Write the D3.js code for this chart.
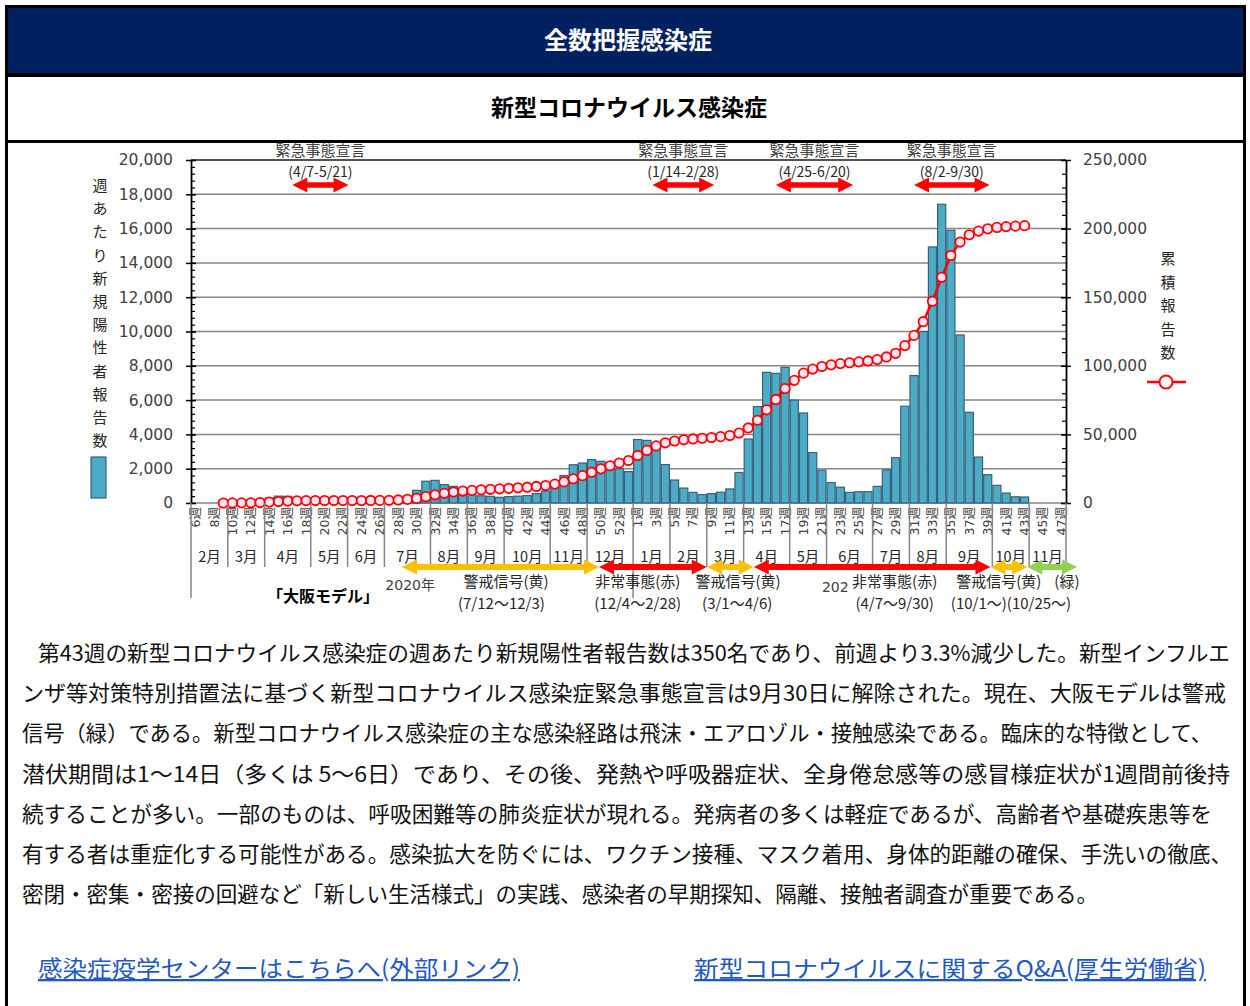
<!DOCTYPE html>
<html lang="ja">
<head>
<meta charset="UTF-8">
<script src="https://d3js.org/d3.v7.min.js"></script>
<style>
  body { margin: 0; background: #fff; }
  svg { display: block; }
  text { font-family: "Noto Sans CJK JP", "Noto Sans", sans-serif; }
  .num { font-family: "DejaVu Sans", "Noto Sans CJK JP", sans-serif; }
</style>
</head>
<body>
<svg id="page" width="1250" height="1006"></svg>
<script>
// ---- data ----
var weeks2020 = [6,7,8,9,10,11,12,13,14,15,16,17,18,19,20,21,22,23,24,25,26,27,28,29,30,31,32,33,34,35,36,37,38,39,40,41,42,43,44,45,46,47,48,49,50,51,52,53];
var weeks2021 = [1,2,3,4,5,6,7,8,9,10,11,12,13,14,15,16,17,18,19,20,21,22,23,24,25,26,27,28,29,30,31,32,33,34,35,36,37,38,39,40,41,42,43,44,45,46,47];

// weekly new positive reports (bars, left axis)
var newCases = [null,null,null,10,50,60,70,150,300,400,390,220,100,40,15,5,10,10,10,20,40,80,230,420,740,1270,1320,1070,970,700,480,420,390,330,370,400,430,550,700,1000,1600,2230,2330,2530,2430,2250,2000,1830,
  3700,3650,3300,2240,1340,870,620,490,550,630,820,1780,3730,5620,7620,7560,7910,6000,5250,2940,1910,1190,920,620,660,660,970,1930,2640,5640,7430,10000,14930,17420,15900,9800,5290,2680,1650,1030,580,362,350,null,null,null,null];

// cumulative reports (line, right axis)
var cumulative = [null,null,null,10,60,120,190,340,640,1040,1430,1650,1750,1790,1805,1810,1820,1830,1840,1860,1900,1980,2210,2630,3370,4640,5960,7030,8000,8700,9180,9600,9990,10320,10690,11090,11520,12070,12770,13770,15370,17600,19930,22460,24890,27140,29140,30970,
  34670,38320,41620,43860,45200,46070,46690,47180,47730,48360,49180,50960,54690,60310,67930,75490,83400,89400,94650,97590,99500,100690,101610,102230,102890,103550,104520,106450,109090,114730,122160,132160,147090,164510,180410,190210,195500,198180,199830,200860,201440,201800,202150,null,null,null,null];

var monthLabels = ["2月","3月","4月","5月","6月","7月","8月","9月","10月","11月","12月","1月","2月","3月","4月","5月","6月","7月","8月","9月","10月","11月"];
var monthWeekCounts = [4,4,5,4,4,5,4,4,5,4,5,4,4,4,5,4,5,4,4,5,4,4];

var leftTicks = [0,2000,4000,6000,8000,10000,12000,14000,16000,18000,20000];
var rightTicks = [0,50000,100000,150000,200000,250000];

// emergency declarations (positions in week units)
var emergencyLabels = ["(4/7-5/21)","(1/14-2/28)","(4/25-6/20)","(8/2-9/30)"];
var emergencyFrom = [11.0, 50.1, 63.5, 78.5];
var emergencyTo = [17.1, 56.8, 71.9, 86.7];

// Osaka model signal periods (week units)
var modelLevel = ["yellow","red","yellow","red","yellow","green"];
var modelFrom = [22.9, 44.3, 56.05, 61.1, 86.8, 90.8];
var modelTo = [44.3, 56.0, 61.1, 86.8, 90.8, 96.2];
var modelNames = ["警戒信号(黄)","非常事態(赤)","警戒信号(黄)","非常事態(赤)","警戒信号(黄)","(緑)"];
var modelNameAt = [34.2, 48.5, 59.4, 76.4, 87.7, 95.1];
var modelDates = ["(7/12～12/3)","(12/4～2/28)","(3/1～4/6)","(4/7～9/30)","(10/1～)(10/25～)"];
var modelDateAt = [33.7, 48.5, 59.3, 76.4, 82.5];
var yearLabels = ["2020年", "202"];
var yearAt = [21.1, 68.5];

var paragraph = [
  "第43週の新型コロナウイルス感染症の週あたり新規陽性者報告数は350名であり、前週より3.3%減少した。新型インフルエ",
  "ンザ等対策特別措置法に基づく新型コロナウイルス感染症緊急事態宣言は9月30日に解除された。現在、大阪モデルは警戒",
  "信号（緑）である。新型コロナウイルス感染症の主な感染経路は飛沫・エアロゾル・接触感染である。臨床的な特徴として、",
  "潜伏期間は1～14日（多くは 5～6日）であり、その後、発熱や呼吸器症状、全身倦怠感等の感冒様症状が1週間前後持",
  "続することが多い。一部のものは、呼吸困難等の肺炎症状が現れる。発病者の多くは軽症であるが、高齢者や基礎疾患等を",
  "有する者は重症化する可能性がある。感染拡大を防ぐには、ワクチン接種、マスク着用、身体的距離の確保、手洗いの徹底、",
  "密閉・密集・密接の回避など「新しい生活様式」の実践、感染者の早期探知、隔離、接触者調査が重要である。"
];
var links = ["感染症疫学センターはこちらへ(外部リンク)","新型コロナウイルスに関するQ&A(厚生労働省)"];

// ---- layout ----
var svg = d3.select("#page");
var levelColor = { yellow: "#FFC000", red: "#FF0000", green: "#92D050" };
var plotL = 191, plotR = 1066, plotT = 160, plotB = 503;
var nCat = weeks2020.length + weeks2021.length;

// frame + header
svg.append("rect").attr("x", 5).attr("y", 5).attr("width", 1241).attr("height", 1001).attr("fill", "#000");
svg.append("rect").attr("x", 8).attr("y", 8).attr("width", 1235).attr("height", 65).attr("fill", "#002060");
svg.append("rect").attr("x", 8).attr("y", 77).attr("width", 1235).attr("height", 63).attr("fill", "#fff");
svg.append("rect").attr("x", 8).attr("y", 143).attr("width", 1235).attr("height", 863).attr("fill", "#fff");

svg.append("text").attr("x", 628).attr("y", 49).attr("text-anchor", "middle")
  .attr("fill", "#fff").attr("font-size", 24).attr("font-weight", "bold").text("全数把握感染症");
svg.append("text").attr("x", 629).attr("y", 116).attr("text-anchor", "middle")
  .attr("fill", "#000").attr("font-size", 23).attr("font-weight", "bold").text("新型コロナウイルス感染症");

// scales
var x = d3.scaleBand().domain(d3.range(nCat)).range([plotL, plotR]).paddingInner(0.12).paddingOuter(0.06);
var xw = d3.scaleLinear().domain([0, nCat]).range([plotL, plotR]);
var yL = d3.scaleLinear().domain([0, 20000]).range([plotB, plotT]);
var yR = d3.scaleLinear().domain([0, 250000]).range([plotB, plotT]);

var g = svg.append("g");

// grid lines
g.selectAll(".grid").data(leftTicks.slice(1, -1)).enter().append("line")
  .attr("x1", plotL).attr("x2", plotR)
  .attr("y1", function(d) { return yL(d); }).attr("y2", function(d) { return yL(d); })
  .attr("stroke", "#868686").attr("stroke-width", 1.5);
g.append("line").attr("x1", plotL).attr("x2", plotR).attr("y1", plotT).attr("y2", plotT)
  .attr("stroke", "#1a1a1a").attr("stroke-width", 1.5);
g.append("line").attr("x1", plotL).attr("x2", plotR).attr("y1", plotB).attr("y2", plotB)
  .attr("stroke", "#868686").attr("stroke-width", 1.5);

// bars
g.selectAll(".bar").data(newCases.map(function(v, i) { return { i: i, v: v }; }).filter(function(d) { return d.v != null; }))
  .enter().append("rect")
  .attr("x", function(d) { return x(d.i); })
  .attr("y", function(d) { return yL(d.v); })
  .attr("width", x.bandwidth())
  .attr("height", function(d) { return plotB - yL(d.v); })
  .attr("fill", "#4BACC6").attr("stroke", "#3e5d7c").attr("stroke-width", 1.2);

// left axis
var leftMinor = d3.range(0, 20001, 400);
g.append("g").attr("transform", "translate(" + plotL + ",0)")
  .call(d3.axisRight(yL).tickValues(leftMinor).tickSize(4).tickFormat(""))
  .call(function(a) { a.select(".domain").remove(); a.selectAll("line").attr("stroke", "#000").attr("stroke-width", 1.2); });
g.append("g").attr("transform", "translate(" + plotL + ",0)")
  .call(d3.axisRight(yL).tickValues(leftTicks).tickSize(5).tickFormat(""))
  .call(function(a) { a.select(".domain").remove(); a.selectAll("line").attr("stroke", "#000").attr("stroke-width", 1.5); });
var axL = g.append("g").attr("transform", "translate(" + plotL + ",0)")
  .call(d3.axisLeft(yL).tickValues(leftTicks).tickSize(5).tickSizeOuter(0).tickPadding(13).tickFormat(d3.format(",")));
axL.select(".domain").attr("stroke", "#000").attr("stroke-width", 1.8);
axL.selectAll("line").attr("stroke", "#000").attr("stroke-width", 1.5);
axL.selectAll("text").attr("class", "num").attr("font-size", 15.5).attr("fill", "#404040");

// right axis
var rightMinor = d3.range(0, 250001, 10000);
g.append("g").attr("transform", "translate(" + plotR + ",0)")
  .call(d3.axisLeft(yR).tickValues(rightMinor).tickSize(4).tickFormat(""))
  .call(function(a) { a.select(".domain").remove(); a.selectAll("line").attr("stroke", "#000").attr("stroke-width", 1.2); });
g.append("g").attr("transform", "translate(" + plotR + ",0)")
  .call(d3.axisLeft(yR).tickValues(rightTicks).tickSize(5).tickFormat(""))
  .call(function(a) { a.select(".domain").remove(); a.selectAll("line").attr("stroke", "#000").attr("stroke-width", 1.5); });
var axR = g.append("g").attr("transform", "translate(" + plotR + ",0)")
  .call(d3.axisRight(yR).tickValues(rightTicks).tickSize(5).tickSizeOuter(0).tickPadding(12).tickFormat(d3.format(",")));
axR.select(".domain").attr("stroke", "#000").attr("stroke-width", 1.8);
axR.selectAll("line").attr("stroke", "#000").attr("stroke-width", 1.5);
axR.selectAll("text").attr("class", "num").attr("font-size", 15.5).attr("fill", "#404040");

// cumulative line + markers
var cumPts = cumulative.map(function(v, i) { return { i: i, v: v }; }).filter(function(d) { return d.v != null; });
var line = d3.line().x(function(d) { return x(d.i) + x.bandwidth() / 2; }).y(function(d) { return yR(d.v); });
g.append("path").datum(cumPts).attr("d", line).attr("fill", "none").attr("stroke", "#FF0000").attr("stroke-width", 2.5);
g.selectAll(".pt").data(cumPts).enter().append("circle")
  .attr("cx", function(d) { return x(d.i) + x.bandwidth() / 2; })
  .attr("cy", function(d) { return yR(d.v); })
  .attr("r", 4.7).attr("fill", "#FFE6F6").attr("stroke", "#FF0000").attr("stroke-width", 1.8);

// week labels
var weekLabels = weeks2020.concat(weeks2021).map(function(w) { return w + "週"; });
g.selectAll(".wk").data(weekLabels).enter().filter(function(d, i) { return i % 2 === 0; })
  .append("text")
  .attr("class", "num")
  .attr("transform", function(d, i) { return "translate(" + (x(i * 2) + x.bandwidth() / 2) + "," + (plotB + 4) + ") rotate(-90)"; })
  .attr("text-anchor", "end").attr("dy", "0.36em")
  .attr("font-size", 12.5).attr("fill", "#404040")
  .text(function(d) { return d; });

// month row
var bounds = [0];
monthWeekCounts.forEach(function(n) { bounds.push(bounds[bounds.length - 1] + n); });
g.selectAll(".msep").data(bounds).enter().append("line")
  .attr("x1", function(d) { return xw(d); }).attr("x2", function(d) { return xw(d); })
  .attr("y1", plotB).attr("y2", function(d) { return (d === 0 || d === weeks2020.length) ? 598 : 567; })
  .attr("stroke", "#868686").attr("stroke-width", 1.5);
g.selectAll(".mlab").data(monthLabels).enter().append("text")
  .attr("x", function(d, i) { return (xw(bounds[i]) + xw(bounds[i + 1])) / 2; })
  .attr("y", 562).attr("text-anchor", "middle").attr("font-size", 14.5).attr("fill", "#262626")
  .text(function(d) { return d; });

// double arrow helper
function arrow(sel, x1, x2, y, hl, hh, sh, color) {
  var p = [[x1, y], [x1 + hl, y - hh], [x1 + hl, y - sh], [x2 - hl, y - sh], [x2 - hl, y - hh], [x2, y],
           [x2 - hl, y + hh], [x2 - hl, y + sh], [x1 + hl, y + sh], [x1 + hl, y + hh]];
  sel.append("path").attr("d", "M" + p.join("L") + "Z").attr("fill", color);
}

// emergency declarations at the top
emergencyLabels.forEach(function(lab, i) {
  var mid = (xw(emergencyFrom[i]) + xw(emergencyTo[i])) / 2;
  g.append("text").attr("x", mid).attr("y", 156).attr("text-anchor", "middle")
    .attr("font-size", 15).attr("fill", "#404040").text("緊急事態宣言");
  g.append("text").attr("x", mid).attr("y", 177).attr("text-anchor", "middle")
    .attr("font-size", 14).attr("fill", "#262626").attr("font-family", "Liberation Sans").text(lab);
  arrow(g, xw(emergencyFrom[i]), xw(emergencyTo[i]), 185, 15, 7.5, 2.8, "#FF0000");
});

// Osaka model arrows
modelLevel.forEach(function(lv, i) {
  arrow(g, xw(modelFrom[i]), xw(modelTo[i]), 567, 15, 7.5, 3, levelColor[lv]);
});
yearLabels.forEach(function(t, i) {
  g.append("text").attr("x", xw(yearAt[i])).attr("y", 590 + i * 2).attr("font-size", 14)
    .attr("fill", "#404040").attr("class", "num").text(t);
});
modelNames.forEach(function(t, i) {
  g.append("text").attr("x", xw(modelNameAt[i])).attr("y", 587).attr("text-anchor", "middle")
    .attr("font-size", 15).attr("fill", "#262626").text(t);
});
modelDates.forEach(function(t, i) {
  var tx = g.append("text").attr("y", 609).attr("font-size", 15).attr("fill", "#262626").text(t);
  if (i === 4) tx.attr("x", xw(modelDateAt[i])).attr("text-anchor", "start");
  else tx.attr("x", xw(modelDateAt[i])).attr("text-anchor", "middle");
});
g.append("text").attr("x", 323).attr("y", 602).attr("text-anchor", "middle")
  .attr("font-size", 16).attr("font-weight", "bold").attr("fill", "#000").text("「大阪モデル」");

// axis titles / legends
var leftTitle = "週あたり新規陽性者報告数".split("");
g.selectAll(".lt").data(leftTitle).enter().append("text")
  .attr("x", 100).attr("y", function(d, i) { return 191 + i * 23.2; })
  .attr("text-anchor", "middle").attr("font-size", 15).attr("fill", "#262626").text(function(d) { return d; });
g.append("rect").attr("x", 91).attr("y", 457).attr("width", 15).attr("height", 41)
  .attr("fill", "#4BACC6").attr("stroke", "#3e5d7c").attr("stroke-width", 1.2);

var rightTitle = "累積報告数".split("");
g.selectAll(".rt").data(rightTitle).enter().append("text")
  .attr("x", 1168).attr("y", function(d, i) { return 264 + i * 23.5; })
  .attr("text-anchor", "middle").attr("font-size", 15).attr("fill", "#262626").text(function(d) { return d; });
g.append("line").attr("x1", 1147).attr("x2", 1186).attr("y1", 382).attr("y2", 382)
  .attr("stroke", "#FF0000").attr("stroke-width", 2.5);
g.append("circle").attr("cx", 1166).attr("cy", 382).attr("r", 6.5)
  .attr("fill", "#fff").attr("stroke", "#FF0000").attr("stroke-width", 2);

// paragraph
var paraX = [38, 22, 22, 22, 22, 22, 22];
var paraW = [1192, 1204, 1190, 1208, 1190, 1210, 1076];
paragraph.forEach(function(t, i) {
  svg.append("text").attr("x", paraX[i]).attr("y", 661 + i * 40.2)
    .attr("font-size", 21.5).attr("fill", "#111")
    .attr("textLength", paraW[i]).attr("lengthAdjust", "spacingAndGlyphs").text(t);
});

// links
var linkX = [38, 694], linkW = [482, 512];
links.forEach(function(t, i) {
  svg.append("text").attr("x", linkX[i]).attr("y", 977)
    .attr("font-size", 23).attr("fill", "#1f58c2").attr("text-decoration", "underline")
    .attr("textLength", linkW[i]).attr("lengthAdjust", "spacingAndGlyphs").text(t);
});
</script>
</body>
</html>
